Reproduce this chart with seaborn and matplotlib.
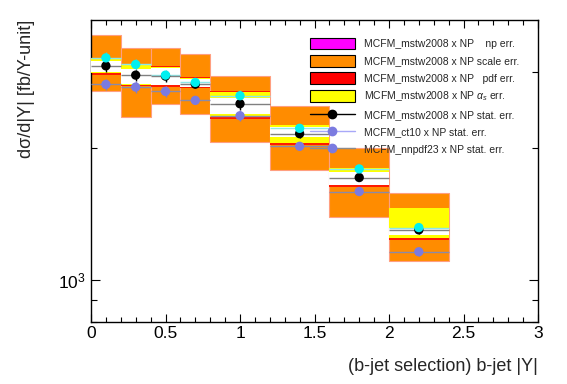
import numpy as np
import pandas as pd
import matplotlib
matplotlib.use("Agg")
import matplotlib.pyplot as plt
import seaborn as sns
from matplotlib.patches import Patch
from matplotlib.lines import Line2D
from matplotlib.ticker import FixedLocator, FixedFormatter, MultipleLocator, NullFormatter

# bins in |Y|
bin_lo = np.array([0.0, 0.2, 0.4, 0.6, 0.8, 1.2, 1.6, 2.0])
bin_hi = np.array([0.2, 0.4, 0.6, 0.8, 1.2, 1.6, 2.0, 2.4])

# central values [fb/Y-unit]
mstw = np.array([3093, 2945, 2930, 2808, 2532, 2162, 1715, 1301])
ct10 = np.array([3226, 3116, 2945, 2834, 2642, 2224, 1795, 1317])
nnpdf = np.array([2804, 2765, 2703, 2578, 2377, 2023, 1593, 1159])

# uncertainty bands on mstw2008 x NP
scale_hi = np.array([3636, 3390, 3401, 3285, 2930, 2505, 2008, 1579])
scale_lo = np.array([2707, 2364, 2528, 2394, 2073, 1782, 1396, 1105])
pdf_hi = np.array([3221, 3105, 3093, 2922, 2714, 2269, 1804, 1459])
pdf_lo = np.array([2945, 2780, 2772, 2750, 2342, 2037, 1632, 1231])
as_hi = np.array([3221, 3105, 3072, 2907, 2693, 2269, 1804, 1459])
as_lo = np.array([2977, 2794, 2794, 2762, 2360, 2053, 1645, 1245])
inner_hi = np.array([3171, 3040, 3055, 2891, 2609, 2239, 1767, 1315])
inner_lo = np.array([2992, 2808, 2801, 2772, 2398, 2125, 1650, 1268])

# relative stat. errors
stat_rel = np.array([0.03, 0.03, 0.03, 0.02, 0.03, 0.02, 0.02, 0.02])

labels = [
    "MCFM_mstw2008 x NP    np err.",
    "MCFM_mstw2008 x NP scale err.",
    "MCFM_mstw2008 x NP   pdf err.",
    r"MCFM_mstw2008 x NP $\alpha_s$ err.",
    "MCFM_mstw2008 x NP stat. err.",
    "MCFM_ct10 x NP stat. err.",
    "MCFM_nnpdf23 x NP stat. err.",
]

sns.set_theme(style="ticks")
plt.rcParams["font.family"] = ["Liberation Sans", "DejaVu Sans"]
plt.rcParams["mathtext.fontset"] = "custom"
plt.rcParams["mathtext.rm"] = "Liberation Sans"
plt.rcParams["mathtext.it"] = "Liberation Sans:italic"

fig = plt.figure(figsize=(5.67, 3.84), dpi=100)
ax = fig.add_axes([0.1605, 0.1615, 0.7884, 0.7864])

centers = (bin_lo + bin_hi) / 2
widths = bin_hi - bin_lo

ORANGE = "#ff8c00"
ax.bar(bin_lo, scale_hi - scale_lo, bottom=scale_lo, width=widths, align="edge",
       color=ORANGE, edgecolor="#ff9f80", linewidth=0.8, zorder=1)
ax.bar(bin_lo, pdf_hi - pdf_lo, bottom=pdf_lo, width=widths, align="edge",
       color="#ff1a00", linewidth=0, zorder=2)
ax.bar(bin_lo, as_hi - as_lo, bottom=as_lo, width=widths, align="edge",
       color="#ffff00", linewidth=0, zorder=3)
ax.bar(bin_lo, inner_hi - inner_lo, bottom=inner_lo, width=widths, align="edge",
       color="white", linewidth=0, zorder=4)

ax.hlines(ct10, bin_lo, bin_hi, color="#8ee8e8", lw=1.0, zorder=5)
ax.hlines(mstw, bin_lo, bin_hi, color="#808080", lw=1.0, zorder=5)
ax.hlines(nnpdf, bin_lo, bin_hi, color="#8a8aa8", lw=1.0, zorder=5)

ax.errorbar(centers, ct10, yerr=ct10 * stat_rel, fmt="none", ecolor="#6cc8b0", lw=1, zorder=6)
ax.errorbar(centers, mstw, yerr=mstw * stat_rel, fmt="none", ecolor="black", lw=1, zorder=6)
ax.errorbar(centers, nnpdf, yerr=nnpdf * stat_rel, fmt="none", ecolor="#8080c0", lw=1, zorder=6)

pts = pd.DataFrame({
    "x": np.concatenate([centers, centers, centers]),
    "y": np.concatenate([nnpdf, mstw, ct10]),
    "set": ["nnpdf"] * 8 + ["mstw"] * 8 + ["ct10"] * 8,
})
sns.scatterplot(data=pts, x="x", y="y", hue="set",
                palette={"nnpdf": "#7b7be0", "mstw": "black", "ct10": "#00f0f0"},
                s=45, edgecolor="none", legend=False, ax=ax, zorder=7)

ax.set_yscale("log")
ax.set_xlim(0, 3)
ax.set_ylim(800, 3940)

ax.xaxis.set_major_locator(FixedLocator([0, 0.5, 1, 1.5, 2, 2.5, 3]))
ax.xaxis.set_major_formatter(FixedFormatter(["0", "0.5", "1", "1.5", "2", "2.5", "3"]))
ax.xaxis.set_minor_locator(MultipleLocator(0.1))
ax.yaxis.set_major_locator(FixedLocator([1000]))
ax.yaxis.set_major_formatter(FixedFormatter([r"$10^3$"]))
ax.yaxis.set_minor_locator(FixedLocator([800, 900, 2000, 3000]))
ax.yaxis.set_minor_formatter(NullFormatter())

ax.tick_params(which="both", direction="in", top=True, right=True, colors="black",
               labelsize=12.5)
ax.tick_params(axis="x", which="major", length=6, width=0.8, pad=3)
ax.tick_params(axis="x", which="minor", length=3.5, width=0.8)
ax.tick_params(axis="y", which="major", length=6.5, width=0.8, pad=4)
ax.tick_params(axis="y", which="minor", length=4.5, width=0.8)
for sp in ax.spines.values():
    sp.set_color("black")
    sp.set_linewidth(1.0)

ax.set_xlabel("(b-jet selection) b-jet |Y|", fontsize=13, loc="right", labelpad=12)
ax.set_ylabel("dσ/d|Y| [fb/Y-unit]", fontsize=13, loc="top")
ax.yaxis.set_label_coords(-0.125, 1.0)

handles = [
    Patch(facecolor="#ff00ff", edgecolor="black", linewidth=0.8),
    Patch(facecolor=ORANGE, edgecolor="black", linewidth=0.8),
    Patch(facecolor="#ff0000", edgecolor="black", linewidth=0.8),
    Patch(facecolor="#ffff00", edgecolor="black", linewidth=0.8),
    Line2D([], [], color="black", lw=1, marker="o", markersize=6),
    Line2D([], [], color="#a8a8f8", lw=1, marker="o", markersize=6,
           markerfacecolor="#7b7be0", markeredgecolor="#7b7be0"),
    Line2D([], [], color="#8c8c8c", lw=1, marker="o", markersize=6,
           markerfacecolor="#7b7be0", markeredgecolor="#7b7be0"),
]
leg = ax.legend(handles, labels, loc="upper left", bbox_to_anchor=(310 / 567, 1 - 38 / 384),
                bbox_transform=fig.transFigure, frameon=False, fontsize=7.5,
                handlelength=4.3, handleheight=1.3, labelspacing=0.56,
                handletextpad=0.85, borderpad=0, borderaxespad=0)
leg.set_zorder(10)

fig.savefig("out.png", dpi=100)
